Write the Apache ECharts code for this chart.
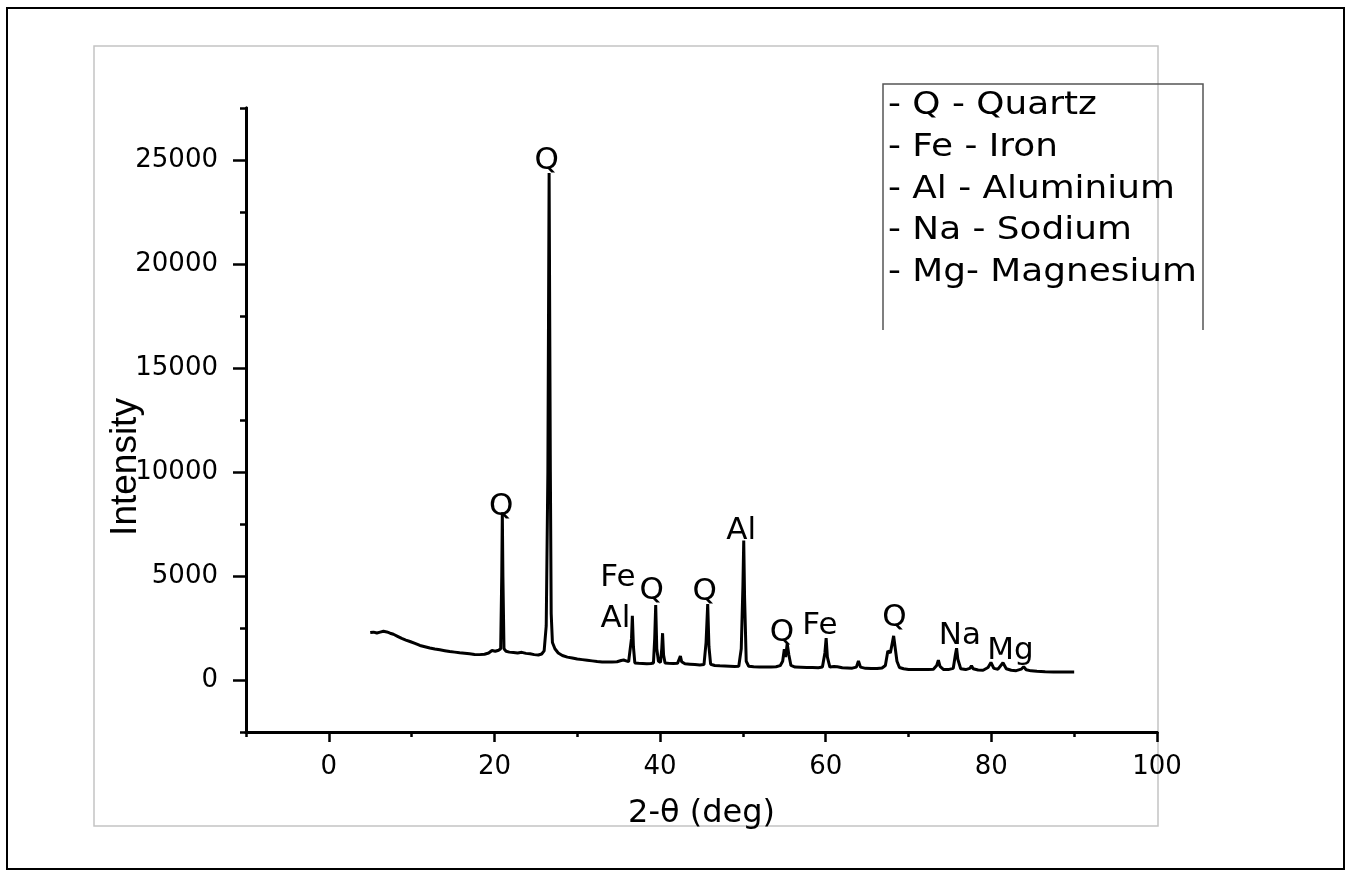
<!DOCTYPE html>
<html>
<head>
<meta charset="utf-8">
<script src="https://cdn.jsdelivr.net/npm/echarts@6/dist/echarts.min.js"></script>
<style>
html,body{margin:0;padding:0;background:#fff;}
#chart{width:1351px;height:877px;}
</style>
</head>
<body>
<div id="chart"></div>
<script>
// ---- data ----
var twoTheta = [5.0,5.4,5.8,6.2,6.6,7.0,7.4,7.8,8.3,8.8,9.3,9.8,10.4,11.0,11.6,12.2,12.8,13.4,14.0,14.6,15.2,15.8,16.4,17.0,17.6,18.2,18.8,19.3,19.7,20.1,20.5,20.75,20.88,20.95,21.02,21.15,21.4,21.8,22.3,22.8,23.3,23.8,24.3,24.8,25.3,25.7,26.0,26.25,26.45,26.6,26.75,26.85,27.0,27.3,27.7,28.2,28.8,29.4,30.0,30.6,31.2,31.8,32.4,33.0,33.6,34.2,34.8,35.3,35.6,35.9,36.2,36.4,36.55,36.65,36.78,36.95,37.4,37.9,38.4,38.9,39.2,39.35,39.47,39.6,39.8,40.05,40.2,40.3,40.42,40.6,41.0,41.6,42.1,42.3,42.45,42.6,43.0,43.6,44.2,44.8,45.3,45.55,45.75,45.9,46.1,46.6,47.2,47.8,48.4,49.0,49.5,49.8,50.0,50.1,50.2,50.4,50.7,51.3,52.0,52.7,53.4,54.0,54.5,54.8,55.0,55.15,55.35,55.55,55.8,56.3,57.0,57.7,58.4,59.1,59.6,59.9,60.05,60.2,60.5,61.0,61.4,62.0,62.6,63.2,63.7,63.95,64.2,64.8,65.5,66.2,66.8,67.2,67.5,67.8,68.0,68.2,68.4,68.6,68.9,69.4,70.0,70.8,71.6,72.4,73.0,73.4,73.6,73.8,74.2,74.8,75.4,75.65,75.8,75.95,76.3,76.9,77.4,77.6,77.8,78.4,79.0,79.6,79.95,80.3,80.8,81.4,81.8,82.4,83.0,83.6,83.9,84.2,84.8,85.5,86.5,87.5,88.5,89.3,90.0];
var intensity = [2280,2300,2260,2300,2340,2310,2250,2200,2100,2000,1920,1850,1760,1660,1600,1540,1490,1450,1410,1370,1340,1310,1290,1260,1230,1220,1240,1300,1420,1380,1430,1500,5000,8060,5000,1500,1380,1340,1320,1300,1330,1280,1260,1220,1200,1250,1400,2600,10000,24370,10000,3200,1800,1500,1300,1180,1100,1060,1010,980,950,920,890,870,860,870,880,940,960,920,880,900,2000,3090,1600,820,800,790,780,790,820,2000,3600,1500,900,850,1500,2250,1200,820,800,790,800,1000,1150,880,780,760,740,720,740,1800,3650,1600,760,700,680,670,660,650,660,1500,4500,6700,4000,900,660,640,630,620,620,640,690,900,1480,1100,1740,1200,700,620,610,600,600,590,620,1300,2010,1100,620,650,640,590,580,570,620,920,620,560,550,550,580,700,1400,1300,1700,2120,1500,900,600,540,510,500,500,500,520,700,950,650,510,500,560,1200,1530,1000,540,500,560,680,540,480,470,600,840,560,520,830,540,470,450,520,640,490,440,420,400,390,390,380,380];

var peakNames = ['Q','Q','Fe','Al','Q','Q','Al','Q','Fe','Q','Na','Mg'];
var peakX     = [26.3,20.8,34.9,34.6,39.0,45.4,49.8,54.7,59.3,68.3,76.2,82.3];
var peakY     = [24950,8300,4900,2950,4300,4250,7150,2270,2600,3000,2120,1400];

var legendLines = ['- Q - Quartz','- Fe - Iron','- Al - Aluminium','- Na - Sodium','- Mg- Magnesium'];

var xMajorTicks = [0,20,40,60,80,100];
var xMinorTicks = [-10,10,30,50,70,90];
var yMajorTicks = [0,5000,10000,15000,20000,25000];
var yMinorTicks = [-2500,2500,7500,12500,17500,22500,27500];

var xTitle = '2-\u03b8 (deg)';
var yTitle = 'Intensity';

// ---- build chart ----
var lineData = twoTheta.map(function(x,i){return [x,intensity[i]];});
var peakData = peakNames.map(function(n,i){return {name:n,value:[peakX[i],peakY[i]]};});

var tickFont = 'DejaVu Sans';
var chart = echarts.init(document.getElementById('chart'));

var legendChildren = legendLines.map(function(t,i){
  return {type:'text', x:0, y:106 + i*41.6,
    style:{text:t, fill:'#000', fontFamily:'DejaVu Sans', fontSize:32, align:'left', verticalAlign:'middle'}};
});

function plain(v){ return String(v); }

function xAxisDef(ticks, len, showLabel){
  return {
    type:'value', min:-10, max:100, position:'bottom',
    axisLine:{show:true, onZero:false, lineStyle:{color:'#000', width:3}},
    axisTick:{show:true, inside:false, length:len, customValues:ticks, lineStyle:{color:'#000', width:2.5}},
    axisLabel:{show:showLabel, customValues:ticks, margin:22, color:'#000', fontFamily:tickFont, fontSize:26, formatter:plain},
    splitLine:{show:false}
  };
}
function yAxisDef(ticks, len, showLabel){
  return {
    type:'value', min:-2500, max:27500, position:'left',
    axisLine:{show:true, onZero:false, lineStyle:{color:'#000', width:3}},
    axisTick:{show:true, inside:false, length:len, customValues:ticks, lineStyle:{color:'#000', width:2.5}},
    axisLabel:{show:showLabel, customValues:ticks, margin:28, color:'#000', fontFamily:tickFont, fontSize:26, formatter:plain},
    splitLine:{show:false}
  };
}

var xMain = xAxisDef(xMajorTicks, 10, true);
xMain.name = xTitle; xMain.nameLocation = 'middle'; xMain.nameGap = 66; xMain.nameMoveOverlap = false;
xMain.nameTextStyle = {color:'#000', fontFamily:'DejaVu Sans', fontSize:32};
var yMain = yAxisDef(yMajorTicks, 13, true);
yMain.name = yTitle; yMain.nameLocation = 'middle'; yMain.nameGap = 102; yMain.nameMoveOverlap = false;
yMain.nameTextStyle = {color:'#000', fontFamily:'Liberation Sans', fontSize:37, padding:[0,94,0,0]};

var option = {
  backgroundColor:'#fff',
  animation:false,
  grid:{left:246, right:194, top:108, bottom:145, containLabel:false},
  xAxis:[xMain, xAxisDef(xMinorTicks, 5, false)],
  yAxis:[yMain, yAxisDef(yMinorTicks, 6, false)],
  graphic:[
    {type:'rect', shape:{x:7, y:8, width:1337, height:861}, style:{fill:'none', stroke:'#000', lineWidth:2}, silent:true},
    {type:'rect', shape:{x:94, y:46, width:1064, height:780}, style:{fill:'none', stroke:'#c4c4c4', lineWidth:1.5}, silent:true},
    {type:'polyline', shape:{points:[[883,330],[883,84],[1203,84],[1203,330]]}, style:{fill:'none', stroke:'#555', lineWidth:1.5}, silent:true},
    {type:'group', x:888, y:0, scaleX:1.12, children:legendChildren}
  ],
  series:[
    {type:'line', xAxisIndex:0, yAxisIndex:0, data:lineData, showSymbol:false, symbol:'none',
      lineStyle:{color:'#000', width:3}, sampling:null, z:2},
    {type:'scatter', xAxisIndex:0, yAxisIndex:0, data:peakData, symbolSize:0, z:3,
      itemStyle:{opacity:1},
      label:{show:true, position:'inside', formatter:'{b}', color:'#000', opacity:1, textBorderWidth:0, fontFamily:'DejaVu Sans', fontSize:31}}
  ]
};
chart.setOption(option);
</script>
</body>
</html>
